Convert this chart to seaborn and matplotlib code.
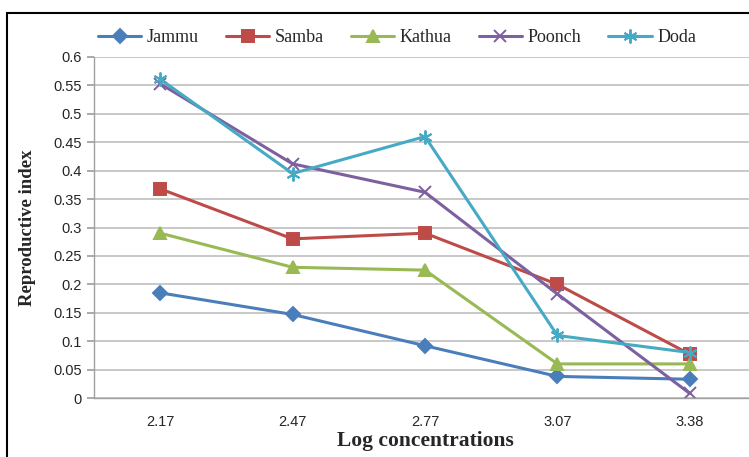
import numpy as np
import pandas as pd
import matplotlib
matplotlib.use("Agg")
import matplotlib.pyplot as plt
from matplotlib.patches import Rectangle
import seaborn as sns

sns.set_theme(style="white")

concentrations = ["2.17", "2.47", "2.77", "3.07", "3.38"]
jammu = [0.185, 0.147, 0.092, 0.038, 0.033]
samba = [0.368, 0.280, 0.290, 0.200, 0.077]
kathua = [0.290, 0.230, 0.225, 0.060, 0.060]
poonch = [0.553, 0.412, 0.362, 0.183, 0.008]
doda = [0.561, 0.395, 0.460, 0.110, 0.080]

regions = ["Jammu", "Samba", "Kathua", "Poonch", "Doda"]
series = [jammu, samba, kathua, poonch, doda]
colors = ["#4A7EBB", "#BE4B48", "#98B954", "#7D60A0", "#46AAC5"]
markers = ["D", "s", "^", "x", (6, 2, 0)]
msizes = [7, 8, 8, 9, 10]

rows = []
for name, vals in zip(regions, series):
    for i, v in enumerate(vals):
        rows.append({"region": name, "pos": i, "value": v})
df = pd.DataFrame(rows)

fig = plt.figure(figsize=(7.49, 4.57), dpi=100)
ax = fig.add_axes([94 / 749, 1 - 398 / 457, (756 - 94) / 749, (398 - 57) / 457])

for name, col, mk, ms in zip(regions, colors, markers, msizes):
    sns.lineplot(data=df[df.region == name], x="pos", y="value", ax=ax,
                 color=col, marker=mk, markersize=ms, markeredgecolor=col,
                 markeredgewidth=1.4, linewidth=2.2, label=name)

ax.set_xlim(-0.5, 4.5)
ax.set_ylim(0, 0.6)
ax.set_yticks(np.arange(0, 0.601, 0.05))
ax.set_yticklabels(["0"] + [f"{v:g}" for v in np.arange(0.05, 0.601, 0.05)],
                   fontsize=10.5, family="Liberation Sans")
ax.set_xticks(range(len(concentrations)))
ax.set_xticklabels(concentrations, fontsize=10.5, family="Liberation Sans")
ax.set_xticks(np.arange(0.5, 4, 1), minor=True)
ax.tick_params(axis="x", which="major", length=0, pad=12)
ax.tick_params(axis="x", which="minor", length=6, color="#A0A0A0", direction="out")
ax.tick_params(axis="y", length=5, color="#A0A0A0", direction="out", left=True, pad=4)
ax.grid(axis="y", color="#BFBFBF", linewidth=1.2)
ax.grid(axis="x", visible=False)
for s in ["top", "right"]:
    ax.spines[s].set_visible(False)
for s in ["left", "bottom"]:
    ax.spines[s].set_color("#A0A0A0")
    ax.spines[s].set_linewidth(1.0)

ax.set_xlabel("Log concentrations", fontsize=15.5, fontweight="bold",
              family="Liberation Serif", labelpad=2)
ax.set_ylabel("Reproductive index", fontsize=13.5, fontweight="bold",
              family="Liberation Serif", labelpad=12)

handles, labels = ax.get_legend_handles_labels()
if ax.legend_:
    ax.legend_.remove()
fig.legend(handles, labels, loc="center", bbox_to_anchor=(0.53, 1 - 38 / 457),
           ncol=5, frameon=False, handlelength=2.4, columnspacing=1.5,
           handletextpad=0.3, prop={"family": "Liberation Serif", "size": 13})

fig.patches.append(Rectangle((7 / 749, -0.1), 1.2, 1.1 - 13 / 457,
                             transform=fig.transFigure, fill=False,
                             edgecolor="black", linewidth=1.5))

fig.savefig("out.png", dpi=100)
